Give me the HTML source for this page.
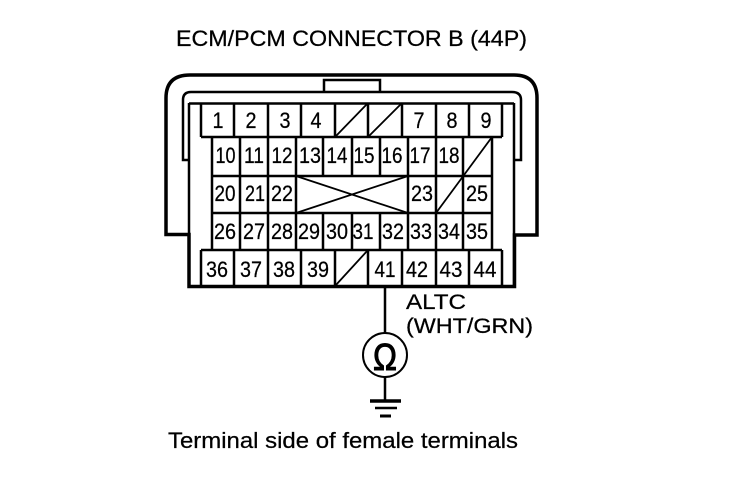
<!DOCTYPE html>
<html><head><meta charset="utf-8"><style>
html,body{margin:0;padding:0;background:#fff}
svg{display:block}
text{font-family:"Liberation Sans",sans-serif;fill:#000;stroke:#000;stroke-width:.25}
.n{font-size:22px;text-anchor:middle}
</style></head><body>
<svg width="736" height="480" viewBox="0 0 736 480" xmlns="http://www.w3.org/2000/svg">
<rect width="736" height="480" fill="#fff"/>
<g fill="none" stroke="#000">
<path stroke-width="3.500" d="M189 234.500H166V98Q166 75 190 75H514Q537 75 537 98V235H514.500V286.500H189Z"/>
<path stroke-width="2.500" d="M189 160H183V100Q183 92 191 92H512Q521 92 521 100V160H514"/>
<path stroke-width="2.500" d="M189 103.500H514M324 91V80H380V91M189 103V286M514 103V286"/>
<path stroke-width="2.500" d="M201 103V137M234 103V137M268 103V137M301 103V137M335 103V137M368 103V137M402 103V137M436 103V137M469 103V137M502 103V137M201 137H502"/>
<path stroke-width="2.500" d="M212 137V250M240 137V250M268 137V250M296 137V250M323 137V176M352 137V176M380 137V176M408 137V250M436 137V250M463 137V250M492 137V250M212 176H492M212 213H492M201 250H502M323 213V250M352 213V250M380 213V250"/>
<path stroke-width="2.500" d="M201 250V286M234 250V286M268 250V286M301 250V286M335 250V286M368 250V286M402 250V286M436 250V286M469 250V286M502 250V286"/>
<path stroke-width="1.800" d="M335 137L368 103M368 137L402 103M335 286L368 250M492 137L436 213M296 176L408 213M296 213L408 176"/>
<path stroke-width="2.500" d="M385 287V333M385 377V400"/>
<circle cx="385" cy="355" r="22" stroke-width="2"/>
<path stroke-width="3.500" d="M370 401H401"/>
<path stroke-width="2.500" d="M375 408H397"/>
<path stroke-width="3" d="M380 416H391"/>
</g>
<text x="176" y="46" font-size="22" textLength="351" lengthAdjust="spacingAndGlyphs">ECM/PCM CONNECTOR B (44P)</text>
<text x="168" y="448" font-size="22" textLength="350" lengthAdjust="spacingAndGlyphs">Terminal side of female terminals</text>
<text x="406" y="309" font-size="21" textLength="60" lengthAdjust="spacingAndGlyphs">ALTC</text>
<text x="406" y="333" font-size="21" textLength="127" lengthAdjust="spacingAndGlyphs">(WHT/GRN)</text>
<text x="385" y="370" font-size="38" text-anchor="middle" textLength="24" lengthAdjust="spacingAndGlyphs" style="stroke-width:1">Ω</text>
<g>
<text class="n" x="218" y="128" textLength="11" lengthAdjust="spacingAndGlyphs">1</text><text class="n" x="251" y="128" textLength="11" lengthAdjust="spacingAndGlyphs">2</text><text class="n" x="285" y="128" textLength="11" lengthAdjust="spacingAndGlyphs">3</text><text class="n" x="316" y="128" textLength="11" lengthAdjust="spacingAndGlyphs">4</text><text class="n" x="419" y="128" textLength="11" lengthAdjust="spacingAndGlyphs">7</text><text class="n" x="452" y="128" textLength="11" lengthAdjust="spacingAndGlyphs">8</text><text class="n" x="486" y="128" textLength="11" lengthAdjust="spacingAndGlyphs">9</text>
<text class="n" x="225.500" y="163" textLength="20" lengthAdjust="spacingAndGlyphs">10</text><text class="n" x="254" y="163" textLength="20" lengthAdjust="spacingAndGlyphs">11</text><text class="n" x="282" y="163" textLength="21" lengthAdjust="spacingAndGlyphs">12</text><text class="n" x="310" y="163" textLength="22" lengthAdjust="spacingAndGlyphs">13</text><text class="n" x="337" y="163" textLength="21" lengthAdjust="spacingAndGlyphs">14</text><text class="n" x="364" y="163" textLength="21" lengthAdjust="spacingAndGlyphs">15</text><text class="n" x="392" y="163" textLength="21" lengthAdjust="spacingAndGlyphs">16</text><text class="n" x="420" y="163" textLength="21" lengthAdjust="spacingAndGlyphs">17</text><text class="n" x="449" y="163" textLength="21" lengthAdjust="spacingAndGlyphs">18</text>
<text class="n" x="225" y="201" textLength="21" lengthAdjust="spacingAndGlyphs">20</text><text class="n" x="255" y="201" textLength="20" lengthAdjust="spacingAndGlyphs">21</text><text class="n" x="282" y="201" textLength="22" lengthAdjust="spacingAndGlyphs">22</text><text class="n" x="422" y="201" textLength="22" lengthAdjust="spacingAndGlyphs">23</text><text class="n" x="477" y="201" textLength="22" lengthAdjust="spacingAndGlyphs">25</text>
<text class="n" x="225" y="239" textLength="22" lengthAdjust="spacingAndGlyphs">26</text><text class="n" x="254" y="239" textLength="22" lengthAdjust="spacingAndGlyphs">27</text><text class="n" x="282" y="239" textLength="22" lengthAdjust="spacingAndGlyphs">28</text><text class="n" x="309" y="239" textLength="22" lengthAdjust="spacingAndGlyphs">29</text><text class="n" x="337" y="239" textLength="22" lengthAdjust="spacingAndGlyphs">30</text><text class="n" x="363" y="239" textLength="21" lengthAdjust="spacingAndGlyphs">31</text><text class="n" x="393" y="239" textLength="22" lengthAdjust="spacingAndGlyphs">32</text><text class="n" x="421" y="239" textLength="22" lengthAdjust="spacingAndGlyphs">33</text><text class="n" x="449" y="239" textLength="22" lengthAdjust="spacingAndGlyphs">34</text><text class="n" x="477" y="239" textLength="22" lengthAdjust="spacingAndGlyphs">35</text>
<text class="n" x="217" y="277" textLength="22" lengthAdjust="spacingAndGlyphs">36</text><text class="n" x="251" y="277" textLength="22" lengthAdjust="spacingAndGlyphs">37</text><text class="n" x="284" y="277" textLength="22" lengthAdjust="spacingAndGlyphs">38</text><text class="n" x="318" y="277" textLength="22" lengthAdjust="spacingAndGlyphs">39</text><text class="n" x="385" y="277" textLength="21" lengthAdjust="spacingAndGlyphs">41</text><text class="n" x="417" y="277" textLength="22" lengthAdjust="spacingAndGlyphs">42</text><text class="n" x="451" y="277" textLength="23" lengthAdjust="spacingAndGlyphs">43</text><text class="n" x="485" y="277" textLength="23" lengthAdjust="spacingAndGlyphs">44</text>
</g>
</svg>
</body></html>
